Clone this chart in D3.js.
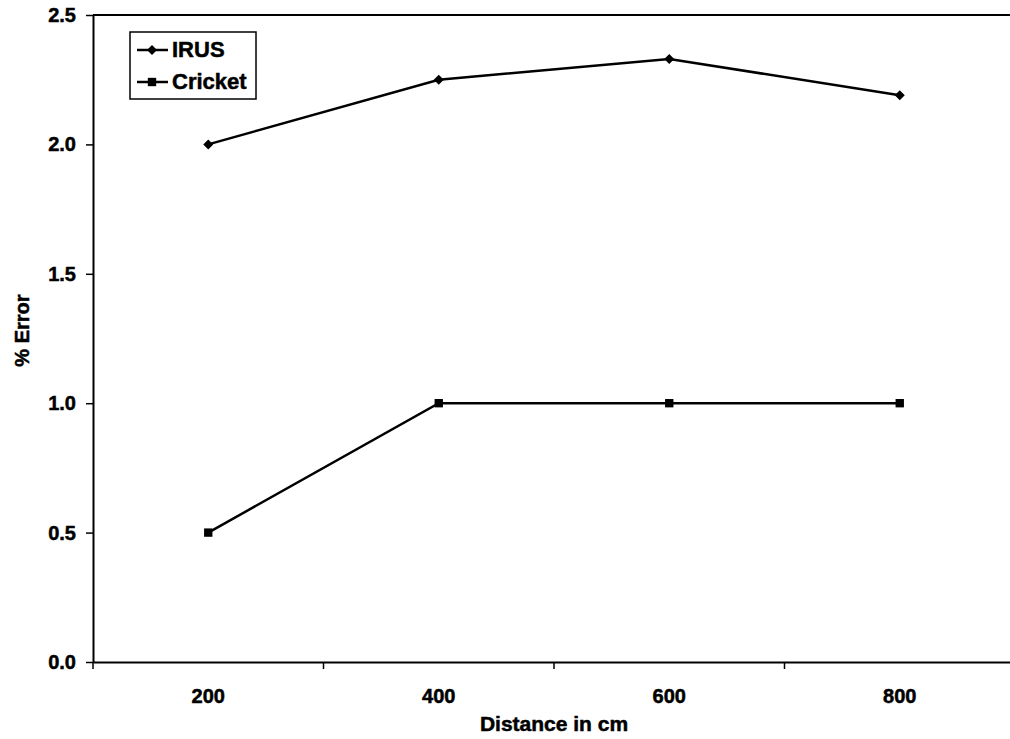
<!DOCTYPE html>
<html>
<head>
<meta charset="utf-8">
<script src="https://cdn.jsdelivr.net/npm/d3@7"></script>
<style>
  body { margin: 0; background: #fff; }
  svg { display: block; font-family: "Liberation Sans", Arial, sans-serif; }
  text { stroke: #000; stroke-width: 0.5px; }
</style>
</head>
<body>
<svg id="chart"></svg>
<script>
// data
let distances = ['200', '400', '600', '800'];
let irus = [2.0, 2.25, 2.33, 2.19];
let cricket = [0.5, 1.0, 1.0, 1.0];
let yTicks = [0, 0.5, 1.0, 1.5, 2.0, 2.5];

let width = 1010;
let height = 739;
let plotLeft = 93, plotTop = 15, plotRight = 1015, plotBottom = 662;

let svg = d3.select('#chart').attr('width', width).attr('height', height);

let x = d3.scaleBand().domain(distances).range([plotLeft, plotRight]).padding(0);
let y = d3.scaleLinear().domain([0, 2.5]).range([plotBottom, plotTop]);
let cx = (d) => x(d) + x.bandwidth() / 2;

// top border of plot area
svg.append('line')
  .attr('x1', plotLeft).attr('x2', width)
  .attr('y1', plotTop).attr('y2', plotTop)
  .attr('stroke', '#000').attr('stroke-width', 2);

// y axis
let yAxis = svg.append('g')
  .attr('transform', `translate(${plotLeft},0)`)
  .call(d3.axisLeft(y).tickValues(yTicks).tickFormat(d3.format('.1f'))
    .tickSize(7).tickSizeOuter(0).tickPadding(10));
yAxis.select('.domain').attr('stroke-width', 2);
yAxis.selectAll('.tick line').attr('stroke-width', 1.5);
yAxis.selectAll('text')
  .attr('font-size', 20).attr('font-weight', 'bold')
  .attr('font-family', '"Liberation Sans", Arial, sans-serif');

// x axis (category labels centred, ticks on band boundaries)
let xAxis = svg.append('g')
  .attr('transform', `translate(0,${plotBottom})`)
  .call(d3.axisBottom(x).tickSize(0).tickPadding(27));
xAxis.select('.domain').attr('stroke-width', 2);
xAxis.selectAll('text')
  .attr('font-size', 20).attr('font-weight', 'bold')
  .attr('font-family', '"Liberation Sans", Arial, sans-serif');

let bounds = distances.map((d) => x(d)).concat([x.range()[1]]);
svg.append('g').selectAll('line')
  .data(bounds)
  .join('line')
  .attr('x1', (d) => d).attr('x2', (d) => d)
  .attr('y1', plotBottom).attr('y2', plotBottom + 7)
  .attr('stroke', '#000').attr('stroke-width', 1.5);

// axis titles
svg.append('text')
  .attr('x', (plotLeft + plotRight) / 2).attr('y', 731)
  .attr('text-anchor', 'middle')
  .attr('font-size', 21).attr('font-weight', 'bold')
  .text('Distance in cm');

svg.append('text')
  .attr('transform', `translate(29,${(plotTop + plotBottom) / 2 - 8}) rotate(-90)`)
  .attr('text-anchor', 'middle')
  .attr('font-size', 20).attr('font-weight', 'bold')
  .text('% Error');

// series
let line = d3.line().x((d) => cx(d.k)).y((d) => y(d.v));
let series = [
  { name: 'IRUS', values: irus, symbol: d3.symbolSquare, size: 50, rot: 45 },
  { name: 'Cricket', values: cricket, symbol: d3.symbolSquare, size: 70, rot: 0 },
];

series.forEach((s) => {
  let pts = distances.map((k, i) => ({ k: k, v: s.values[i] }));
  svg.append('path')
    .datum(pts)
    .attr('d', line)
    .attr('fill', 'none')
    .attr('stroke', '#000')
    .attr('stroke-width', 2.5);
  svg.append('g').selectAll('path')
    .data(pts)
    .join('path')
    .attr('transform', (d) => `translate(${cx(d.k)},${y(d.v)}) rotate(${s.rot})`)
    .attr('d', d3.symbol().type(s.symbol).size(s.size))
    .attr('fill', '#000');
});

// legend
let legend = svg.append('g');
legend.append('rect')
  .attr('x', 130).attr('y', 32)
  .attr('width', 126).attr('height', 67)
  .attr('fill', '#fff').attr('stroke', '#000').attr('stroke-width', 1.5);

series.forEach((s, i) => {
  let ly = 50 + i * 32;
  legend.append('line')
    .attr('x1', 137).attr('x2', 168)
    .attr('y1', ly).attr('y2', ly)
    .attr('stroke', '#000').attr('stroke-width', 2.5);
  legend.append('path')
    .attr('transform', `translate(152,${ly}) rotate(${s.rot})`)
    .attr('d', d3.symbol().type(s.symbol).size(s.size))
    .attr('fill', '#000');
  legend.append('text')
    .attr('x', 172).attr('y', ly + 7)
    .attr('font-size', 22).attr('font-weight', 'bold')
    .text(s.name);
});
</script>
</body>
</html>
